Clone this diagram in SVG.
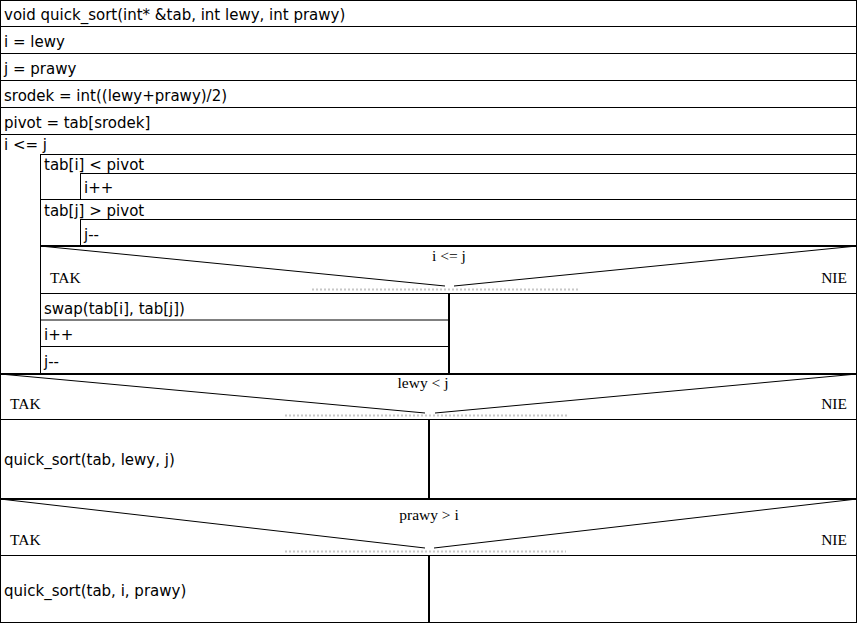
<svg xmlns="http://www.w3.org/2000/svg" width="858" height="624" viewBox="0 0 858 624">
  <style>
    .box { fill: #ffffff; stroke: #000000; stroke-width: 1; }
    .ln { stroke: #000000; stroke-width: 1; fill: none; }
    .thick { stroke: #000000; stroke-width: 2; fill: none; }
    .dot { stroke: #c8c8c8; stroke-width: 2; stroke-dasharray: 2 2; fill: none; }
    .st { font-family: "DejaVu Sans", "Liberation Sans", sans-serif; font-size: 15px; fill: #000000; }
    .cond { font-family: "Liberation Serif", "Times New Roman", serif; font-size: 15.5px; fill: #000000; }
  </style>

  <!-- outer frame -->
  <rect class="box" x="0.5" y="0.5" width="856" height="622"/>

  <!-- sequential statements -->
  <g id="header">
    <line class="ln" x1="0" y1="26.5" x2="857" y2="26.5"/>
    <text class="st" x="4" y="20">void quick_sort(int* &amp;tab, int lewy, int prawy)</text>
  </g>
  <g id="assign-i">
    <line class="ln" x1="0" y1="53.5" x2="857" y2="53.5"/>
    <text class="st" x="4" y="46.5">i = lewy</text>
  </g>
  <g id="assign-j">
    <line class="ln" x1="0" y1="80.5" x2="857" y2="80.5"/>
    <text class="st" x="4" y="73.5">j = prawy</text>
  </g>
  <g id="assign-srodek">
    <line class="ln" x1="0" y1="107.5" x2="857" y2="107.5"/>
    <text class="st" x="4" y="100.5">srodek = int((lewy+prawy)/2)</text>
  </g>
  <g id="assign-pivot">
    <line class="ln" x1="0" y1="134.5" x2="857" y2="134.5"/>
    <text class="st" x="4" y="127.5">pivot = tab[srodek]</text>
  </g>

  <!-- outer while loop -->
  <g id="loop-main">
    <text class="st" x="4" y="150">i &lt;= j</text>
    <line class="ln" x1="40" y1="154.5" x2="857" y2="154.5"/>
    <line class="ln" x1="40.5" y1="154" x2="40.5" y2="374"/>
  </g>

  <g id="loop-i">
    <text class="st" x="44" y="170">tab[i] &lt; pivot</text>
    <line class="ln" x1="80" y1="173.5" x2="857" y2="173.5"/>
    <line class="ln" x1="80.5" y1="173.5" x2="80.5" y2="199.5"/>
    <text class="st" x="84" y="193">i++</text>
    <line class="ln" x1="40" y1="199.5" x2="857" y2="199.5"/>
  </g>

  <g id="loop-j">
    <text class="st" x="44" y="216">tab[j] &gt; pivot</text>
    <line class="ln" x1="80" y1="219.5" x2="857" y2="219.5"/>
    <line class="ln" x1="80.5" y1="219.5" x2="80.5" y2="246"/>
    <text class="st" x="84" y="240">j--</text>
  </g>

  <!-- decision: i <= j -->
  <g id="if-swap">
    <line class="thick" x1="40" y1="246" x2="857" y2="246"/>
    <line class="ln" x1="40" y1="246" x2="445" y2="286"/>
    <line class="ln" x1="454" y1="286" x2="857" y2="246"/>
    <line class="dot" x1="312" y1="289.5" x2="578" y2="289.5"/>
    <text class="cond" x="449" y="261" text-anchor="middle">i &lt;= j</text>
    <text class="cond" x="50" y="283">TAK</text>
    <text class="cond" x="847" y="283" text-anchor="end">NIE</text>
    <line class="ln" x1="40" y1="293.5" x2="857" y2="293.5"/>
    <line class="thick" x1="449" y1="293" x2="449" y2="374"/>
    <text class="st" x="44" y="314">swap(tab[i], tab[j])</text>
    <line class="ln" x1="40" y1="320" x2="449" y2="320"/>
    <text class="st" x="44" y="340">i++</text>
    <line class="ln" x1="40" y1="346.5" x2="449" y2="346.5"/>
    <text class="st" x="44" y="367">j--</text>
  </g>

  <!-- decision: lewy < j -->
  <g id="if-left">
    <line class="thick" x1="0" y1="374" x2="857" y2="374"/>
    <line class="ln" x1="0" y1="374" x2="425" y2="413"/>
    <line class="ln" x1="435" y1="413" x2="857" y2="374"/>
    <line class="dot" x1="285" y1="415.5" x2="567" y2="415.5"/>
    <text class="cond" x="423" y="388" text-anchor="middle">lewy &lt; j</text>
    <text class="cond" x="10" y="409">TAK</text>
    <text class="cond" x="847" y="409" text-anchor="end">NIE</text>
    <line class="ln" x1="0" y1="419.5" x2="857" y2="419.5"/>
    <line class="thick" x1="429" y1="419" x2="429" y2="499"/>
    <text class="st" x="4" y="465">quick_sort(tab, lewy, j)</text>
  </g>

  <!-- decision: prawy > i -->
  <g id="if-right">
    <line class="thick" x1="0" y1="499" x2="857" y2="499"/>
    <line class="ln" x1="0" y1="499" x2="425" y2="548"/>
    <line class="ln" x1="434" y1="548" x2="857" y2="499"/>
    <line class="dot" x1="285" y1="551.5" x2="566" y2="551.5"/>
    <text class="cond" x="429" y="520" text-anchor="middle">prawy &gt; i</text>
    <text class="cond" x="10" y="545">TAK</text>
    <text class="cond" x="847" y="545" text-anchor="end">NIE</text>
    <line class="ln" x1="0" y1="555.5" x2="857" y2="555.5"/>
    <line class="thick" x1="429" y1="555" x2="429" y2="623"/>
    <text class="st" x="4" y="596">quick_sort(tab, i, prawy)</text>
  </g>

  <g id="connectors"/>
</svg>
